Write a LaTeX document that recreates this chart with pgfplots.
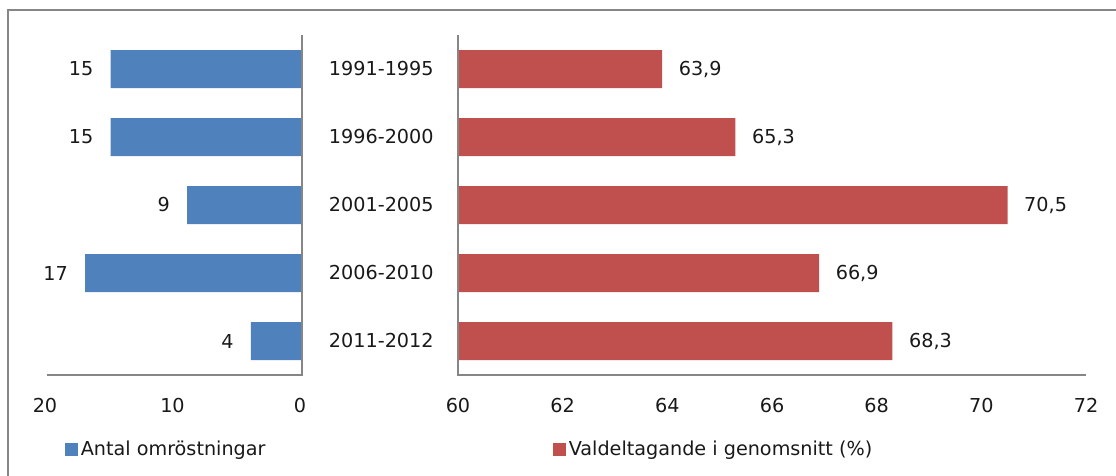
\documentclass[border=0pt]{standalone}
\usepackage{pgfplots}
\pgfplotsset{compat=1.18}
\usepackage{fontspec}
\setmainfont{DejaVu Sans}
\definecolor{cblue}{RGB}{79,129,189}
\definecolor{cred}{RGB}{192,80,77}
\definecolor{framegray}{RGB}{134,134,134}
\definecolor{axgray}{RGB}{134,134,134}
\definecolor{txt}{RGB}{25,25,25}
\pgfplotsset{
  common/.style={
    scale only axis, anchor=south west, height=255pt,
    ymin=0.5, ymax=5.5,
    axis line style={draw=none}, tick style={draw=none},
    clip mode=individual,
    xbar, bar width=28.5pt,
    font=\fontsize{14.4}{17}\selectfont, text=txt,
    /pgf/number format/assume math mode=true,
    xticklabel style={yshift=-14pt},
    nodes near coords,
    legend style={draw=none, fill=none, inner sep=0pt, font=\fontsize{14.4}{17}\selectfont},
    legend image code/.code={\fill[##1,draw=none] (0pt,-4.8pt) rectangle (9.75pt,4.95pt);},
  }
}
\begin{document}
\begin{tikzpicture}
\path[use as bounding box] (0pt,0pt) rectangle (837pt,356.25pt);
\draw[framegray, line width=1.5pt] (6pt,-1pt) -- (6pt,348.75pt) -- (838pt,348.75pt);
\begin{axis}[common,
  at={(35.25pt,75pt)}, width=191.25pt,
  xmin=0, xmax=20, x dir=reverse, xtick={0,10,20},
  ytick=\empty,
  xticklabel style={xshift=-1.5pt},
  nodes near coords style={anchor=east, xshift=-9.5pt, /pgf/number format/fixed, /pgf/number format/precision=0, font=\fontsize{14.4}{17}\selectfont},
  legend style={at={(axis description cs:0.07,-0.218)}, anchor=west},
]
\addplot[fill=cblue, draw=none] coordinates {(4,1) (17,2) (9,3) (15,4) (15,5)};
\addlegendentry{Antal omröstningar}
\draw[axgray, line width=1.2pt] (axis cs:20,0.5) -- (axis cs:0,0.5) -- (axis cs:0,5.5);
\end{axis}
\begin{axis}[common,
  at={(343.5pt,75pt)}, width=471pt,
  xmin=60, xmax=72, xtick={60,62,...,72},
  ytick={1,2,3,4,5},
  yticklabels={2011-2012,2006-2010,2001-2005,1996-2000,1991-1995},
  yticklabel style={anchor=center, xshift=-53.25pt},
  nodes near coords style={anchor=west, xshift=9pt, /pgf/number format/fixed, /pgf/number format/fixed zerofill, /pgf/number format/precision=1, /pgf/number format/use comma, font=\fontsize{14.4}{17}\selectfont},
  legend style={at={(axis description cs:0.151,-0.218)}, anchor=west},
]
\addplot[fill=cred, draw=none] coordinates {(68.3,1) (66.9,2) (70.5,3) (65.3,4) (63.9,5)};
\addlegendentry{Valdeltagande i genomsnitt (\%)}
\draw[axgray, line width=1.2pt] (axis cs:60,5.5) -- (axis cs:60,0.5) -- (axis cs:72,0.5);
\end{axis}
\end{tikzpicture}
\end{document}
